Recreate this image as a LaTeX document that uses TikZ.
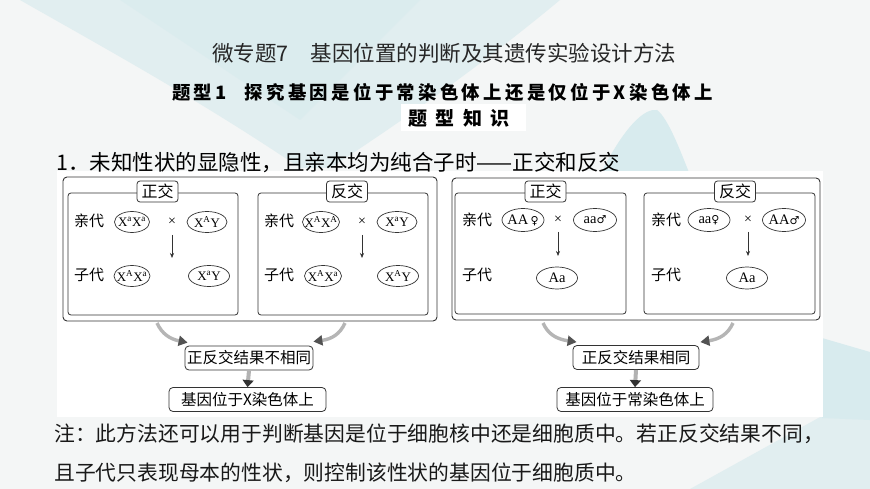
\documentclass[tikz,border=0pt]{standalone}
\usepackage{fontspec}
\setmainfont{Liberation Serif}
\newfontfamily\cjk{Noto Sans CJK SC}
\newfontfamily\cjksp[LetterSpace=18]{Noto Sans CJK SC}
\newfontfamily\cjkwide[LetterSpace=45]{Noto Sans CJK SC}
\newfontfamily\symf{DejaVu Sans}
\usetikzlibrary{arrows.meta,shapes.geometric}
\newcommand\fsz[1]{\fontsize{#1}{#1}\selectfont}
\newcommand\xa{X\textsuperscript{a}}
\newcommand\xA{X\textsuperscript{A}}
\newcommand\fem{{\symf\fsz{11}♀}}
\newcommand\mal{{\symf\fsz{11}♂}}
\definecolor{bg}{HTML}{F4F6F6}
\definecolor{bgb}{HTML}{E1EEF0}
\definecolor{bgc}{HTML}{D8EBEE}
\definecolor{ln}{HTML}{333333}
\begin{document}
\begin{tikzpicture}[x=1pt,y=-1pt,
  outer/.style={draw=ln, line width=0.9pt, rounded corners=4pt, inner sep=0pt},
  inner/.style={draw=ln, line width=0.8pt, rounded corners=3pt, inner sep=0pt},
  tag/.style={draw=ln, fill=white, line width=0.8pt, rounded corners=3pt, inner sep=0pt, minimum width=41pt, minimum height=21pt, font=\cjk\fsz{16}},
  lbl/.style={inner sep=0pt, font=\cjk\fsz{15}},
  gen/.style={ellipse, draw=ln, line width=0.7pt, inner xsep=-9pt, inner ysep=-7pt, minimum height=21pt, minimum width=#1, font=\fsz{13}},
  gen/.default=34pt,
  genb/.style={gen=#1, minimum height=23pt, font=\fsz{14.5}},
  crs/.style={inner sep=0pt, font=\fsz{14}},
  darr/.style={-{Stealth[length=5pt,width=4pt]}, line width=0.6pt, draw=ln},
  res/.style={draw=ln, fill=white, line width=0.8pt, rounded corners=4pt, inner sep=1pt, minimum height=24pt, font=\cjk\fsz{15.5}},
  cA/.style={line width=3.4pt, draw=gray!58, -{Triangle[length=9pt,width=10pt,color=gray!65!black]}},
  dA/.style={line width=4pt, draw=gray!60, -{Triangle[length=7pt,width=11pt,color=black!80]}},
  txt/.style={inner sep=0pt, anchor=west}
]
\useasboundingbox (0,0) rectangle (870,489);
% background
\fill[bg] (0,0) rectangle (870,489);
\fill[bgb] (20,0) -- (560,0) .. controls (500,50) and (420,110) .. (330,168) -- (300,168) .. controls (200,100) and (90,40) .. cycle;
\fill[bgc, opacity=0.6] (120,0) -- (420,0) .. controls (380,40) and (340,80) .. (300,120) .. controls (240,80) and (180,40) .. cycle;
\fill[bgc] (600,175) .. controls (625,125) and (645,108) .. (657,110) .. controls (668,118) and (680,150) .. (690,175) -- cycle;
\fill[bgb] (690,489) -- (822,416) -- (870,380) -- (870,489) -- cycle;
\fill[bgc] (822,338) -- (870,352) -- (870,420) -- (822,418) -- cycle;
\fill[white] (57,171) rectangle (823,417);
\fill[white] (401,104) rectangle (526,131);

% titles
\node[txt, font=\cjk\fsz{21.5}, text=black!85] (title) at (212,53) {微专题7\hspace{22pt}基因位置的判断及其遗传实验设计方法};
\node[txt, font=\cjksp\bfseries\fsz{18.4}] (sub) at (172,92) {题型1\hspace{18pt}探究基因是位于常染色体上还是仅位于X染色体上};
\node[txt, font=\cjkwide\bfseries\fsz{19}] (know) at (408,118) {题型知识};
\node[txt, font=\cjk\fsz{21.5}] (head) at (56,163) {1．未知性状的显隐性，且亲本均为纯合子时——正交和反交};

% left group
\node[outer, minimum width=374pt, minimum height=144pt] (Lout) at (250,249) {};
\node[inner, minimum width=170pt, minimum height=122pt] (LL) at (153,254) {};
\node[inner, minimum width=170pt, minimum height=122pt] (LR) at (343,254) {};
\node[tag] (LLt) at (157.5,191.5) {正交};
\node[tag] (LRt) at (347,191.5) {反交};

\node[lbl] (LLp) at (89,221) {亲代};
\node[gen=35pt] (LLp1) at (132,222) {\xa\xa};
\node[crs] (LLx) at (172,222) {×};
\node[gen=40pt] (LLp2) at (207,222) {\xA Y};
\coordinate (LLa1) at (172,235);
\coordinate (LLa2) at (172,258);
\draw[darr] (LLa1) -- (LLa2);
\node[lbl] (LLc) at (89,275) {子代};
\node[gen=36pt] (LLc1) at (132,276) {\xA\xa};
\node[gen=41pt] (LLc2) at (209,276) {\xa Y};

\node[lbl] (LRp) at (279,221) {亲代};
\node[gen=37pt] (LRp1) at (321,222) {\xA\xA};
\node[crs] (LRx) at (362,222) {×};
\node[gen=40pt] (LRp2) at (397,222) {\xa Y};
\coordinate (LRa1) at (362,235);
\coordinate (LRa2) at (362,258);
\draw[darr] (LRa1) -- (LRa2);
\node[lbl] (LRc) at (279,275) {子代};
\node[gen=37pt] (LRc1) at (323,276) {\xA\xa};
\node[gen=41pt] (LRc2) at (398,276) {\xA Y};

% right group
\node[outer, minimum width=368pt, minimum height=142pt] (Rout) at (636,249) {};
\node[inner, minimum width=171pt, minimum height=121pt] (RL) at (540.5,253.5) {};
\node[inner, minimum width=171pt, minimum height=121pt] (RR) at (729.5,253.5) {};
\node[tag] (RLt) at (545.5,191.5) {正交};
\node[tag] (RRt) at (735,191.5) {反交};

\node[lbl] (RLp) at (477,220) {亲代};
\node[genb=42pt] (RLp1) at (523,220) {AA\,\fem};
\node[crs] (RLx) at (558,220) {×};
\node[genb=43pt] (RLp2) at (595,220) {aa\mal};
\coordinate (RLa1) at (558,232);
\coordinate (RLa2) at (558,256);
\draw[darr] (RLa1) -- (RLa2);
\node[lbl] (RLc) at (477,275) {子代};
\node[genb=41pt, minimum height=22pt] (RLc1) at (557,278) {Aa};

\node[lbl] (RRp) at (666,220) {亲代};
\node[genb=42pt] (RRp1) at (709,220) {aa\fem};
\node[crs] (RRx) at (748,220) {×};
\node[genb=43pt] (RRp2) at (784,220) {AA\mal};
\coordinate (RRa1) at (748,232);
\coordinate (RRa2) at (748,256);
\draw[darr] (RRa1) -- (RRa2);
\node[lbl] (RRc) at (666,275) {子代};
\node[genb=41pt, minimum height=22pt] (RRc1) at (747,278) {Aa};

% results
\node[res, minimum width=128pt] (r1) at (249,358) {正反交结果不相同};
\node[res, minimum width=157pt] (r2) at (247.5,399.5) {基因位于{\fsz{15.5}X}染色体上};
\node[res, minimum width=126pt] (r3) at (636,357.5) {正反交结果相同};
\node[res, minimum width=156pt] (r4) at (635,399.5) {基因位于常染色体上};

% curved arrows
\coordinate (s1) at (157,323);
\coordinate (e1) at ([xshift=3pt,yshift=3pt]r1.north west);
\coordinate (s2) at (345,323);
\coordinate (e2) at ([xshift=0pt,yshift=4pt]r1.north east);
\coordinate (s3) at (543,323);
\coordinate (e3) at ([xshift=4pt,yshift=3pt]r3.north west);
\coordinate (s4) at (733,323);
\coordinate (e4) at ([xshift=1pt,yshift=3pt]r3.north east);
\draw[cA] (s1) .. controls (162,334) and (170,339) .. (e1);
\draw[cA] (s2) .. controls (340,334) and (332,339) .. (e2);
\draw[cA] (s3) .. controls (548,334) and (556,339) .. (e3);
\draw[cA] (s4) .. controls (728,334) and (720,339) .. (e4);
\draw[dA] (r1.south) -- (r2.north);
\draw[dA] (r3.south) -- (r4.north);

% note
\node[txt, font=\cjk\fsz{20.8}, text=black!90] (note1) at (54,434) {注：此方法还可以用于判断基因是位于细胞核中还是细胞质中。若正反交结果不同，};
\node[txt, font=\cjk\fsz{20.8}, text=black!90] (note2) at (54,473) {且子代只表现母本的性状，则控制该性状的基因位于细胞质中。};
\end{tikzpicture}
\end{document}
